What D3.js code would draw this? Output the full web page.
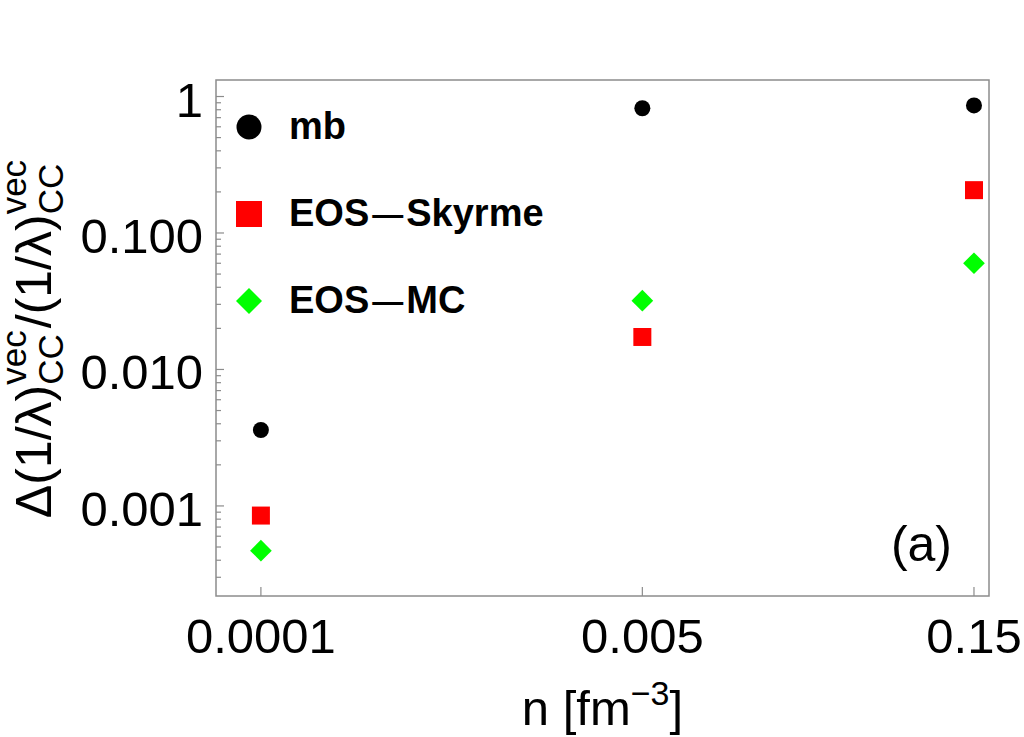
<!DOCTYPE html>
<meta charset="utf-8">
<style>
  body { margin: 0; background: #fff; }
  text { font-family: "Liberation Sans", Arial, sans-serif; fill: #000; }
  .frame { fill: none; stroke: #8c8c8c; stroke-width: 1.5px; }
  .tick line { stroke: #8c8c8c; stroke-width: 1.2px; }
</style>
<svg width="1024" height="737"></svg>
<script src="https://d3js.org/d3.v7.min.js"></script>
<script>

    // data
    var densities = [0.0001, 0.005, 0.15];
    var xTickLabels = ["0.0001", "0.005", "0.15"];
    var yMajor = [1, 0.1, 0.01, 0.001];
    var yTickLabels = ["1", "0.100", "0.010", "0.001"];
    var seriesNames = [["mb"], ["EOS", "Skyrme"], ["EOS", "MC"]];
    var mbValues = [0.0036, 0.82, 0.86];
    var skyrmeValues = [0.00085, 0.0173, 0.206];
    var mcValues = [0.00047, 0.0319, 0.060];
    var colors = ["#000000", "#ff0000", "#00ff00"];

    var svg = d3.select("svg");

    var pLeft = 216, pRight = 989, pTop = 80, pBottom = 596;

    var x = d3.scaleLog()
        .domain([Math.pow(10, -4.2), Math.pow(10, -0.757)])
        .range([pLeft, pRight]);

    var y = d3.scaleLog()
        .domain([Math.pow(10, -3.66), Math.pow(10, 0.121)])
        .range([pBottom, pTop]);

    svg.append("rect")
        .attr("class", "frame")
        .attr("x", pLeft).attr("y", pTop)
        .attr("width", pRight - pLeft).attr("height", pBottom - pTop);

    // y ticks, inward
    var minor = [];
    [0.0001, 0.001, 0.01, 0.1].forEach(function(dec) {
        for (var k = 2; k <= 9; k++) {
            var v = dec * k;
            if (v > y.domain()[0] && v < y.domain()[1]) minor.push(v);
        }
    });

    var yt = svg.append("g").attr("class", "tick");
    yt.selectAll("line.major")
        .data(yMajor)
        .enter().append("line")
        .attr("x1", pLeft).attr("x2", pLeft + 8)
        .attr("y1", function(d) { return y(d); })
        .attr("y2", function(d) { return y(d); });
    yt.selectAll("line.minor")
        .data(minor)
        .enter().append("line")
        .attr("x1", pLeft).attr("x2", pLeft + 5)
        .attr("y1", function(d) { return y(d); })
        .attr("y2", function(d) { return y(d); });

    svg.append("g").selectAll("text")
        .data(yMajor)
        .enter().append("text")
        .attr("x", 203)
        .attr("y", function(d) { return y(d) + 20; })
        .attr("text-anchor", "end")
        .style("font-size", "49px")
        .text(function(d, i) { return yTickLabels[i]; });

    // x ticks
    var xt = svg.append("g").attr("class", "tick");
    xt.selectAll("line")
        .data(densities)
        .enter().append("line")
        .attr("x1", function(d) { return x(d); })
        .attr("x2", function(d) { return x(d); })
        .attr("y1", pBottom).attr("y2", pBottom - 9);

    svg.append("g").selectAll("text")
        .data(densities)
        .enter().append("text")
        .attr("x", function(d) { return x(d); })
        .attr("y", 653)
        .attr("text-anchor", "middle")
        .style("font-size", "49px")
        .text(function(d, i) { return xTickLabels[i]; });

    // x label
    var xl = svg.append("text")
        .attr("x", (pLeft + pRight) / 2)
        .attr("y", 725)
        .attr("text-anchor", "middle")
        .style("font-size", "49px");
    xl.append("tspan").text("n [fm");
    xl.append("tspan").attr("dy", -20).style("font-size", "34px").text("\u22123");
    xl.append("tspan").attr("dy", 20).text("]");

    // y label, built piece by piece so sup/sub stack
    var yl = svg.append("g");
    var pos = 0;
    function piece(str, size, shift) {
        var t = yl.append("text")
            .attr("x", pos).attr("y", shift)
            .style("font-size", size + "px")
            .text(str);
        return t.node().getComputedTextLength();
    }
    function stack() {
        var w1 = piece("vec", 35, -25);
        var w2 = piece("CC", 35, 12);
        pos += Math.max(w1, w2) + 2;
    }
    pos += piece("\u0394(1/\u03bb)", 50, 0);
    stack();
    pos += piece("/(1/\u03bb)", 50, 0);
    stack();
    yl.attr("transform", "translate(51," + (338 + pos / 2) + ") rotate(-90)");

    // markers
    var series = [mbValues, skyrmeValues, mcValues];
    var shapes = [
        d3.symbol().type(d3.symbolCircle).size(Math.PI * 8 * 8),
        d3.symbol().type(d3.symbolSquare).size(18 * 18),
        d3.symbol().type(d3.symbolDiamond2).size(300)
    ];
    var legShapes = [
        d3.symbol().type(d3.symbolCircle).size(Math.PI * 12.5 * 12.5),
        d3.symbol().type(d3.symbolSquare).size(26 * 26),
        d3.symbol().type(d3.symbolDiamond2).size(431)
    ];

    series.forEach(function(vals, s) {
        svg.append("g").selectAll("path")
            .data(vals)
            .enter().append("path")
            .attr("d", shapes[s])
            .attr("fill", colors[s])
            .attr("transform", function(d, i) {
                return "translate(" + x(densities[i]) + "," + y(d) + ")";
            });
    });

    // legend
    var legY = [127, 214, 301];
    var lg = svg.append("g");
    seriesNames.forEach(function(parts, s) {
        lg.append("path")
            .attr("d", legShapes[s])
            .attr("fill", colors[s])
            .attr("transform", "translate(249," + legY[s] + ")");
        var t = lg.append("text")
            .attr("x", 289)
            .attr("y", legY[s] + 12)
            .style("font-size", "38px")
            .style("font-weight", "bold");
        t.append("tspan").text(parts[0]);
        if (parts.length > 1) {
            t.append("tspan").attr("dx", 3).attr("dy", -1)
                .style("font-size", "31px").text("\u2014");
            t.append("tspan").attr("dx", 3).attr("dy", 1).text(parts[1]);
        }
    });

    svg.append("text")
        .attr("x", 952)
        .attr("y", 561)
        .attr("text-anchor", "end")
        .style("font-size", "50px")
        .text("(a)");

</script>
